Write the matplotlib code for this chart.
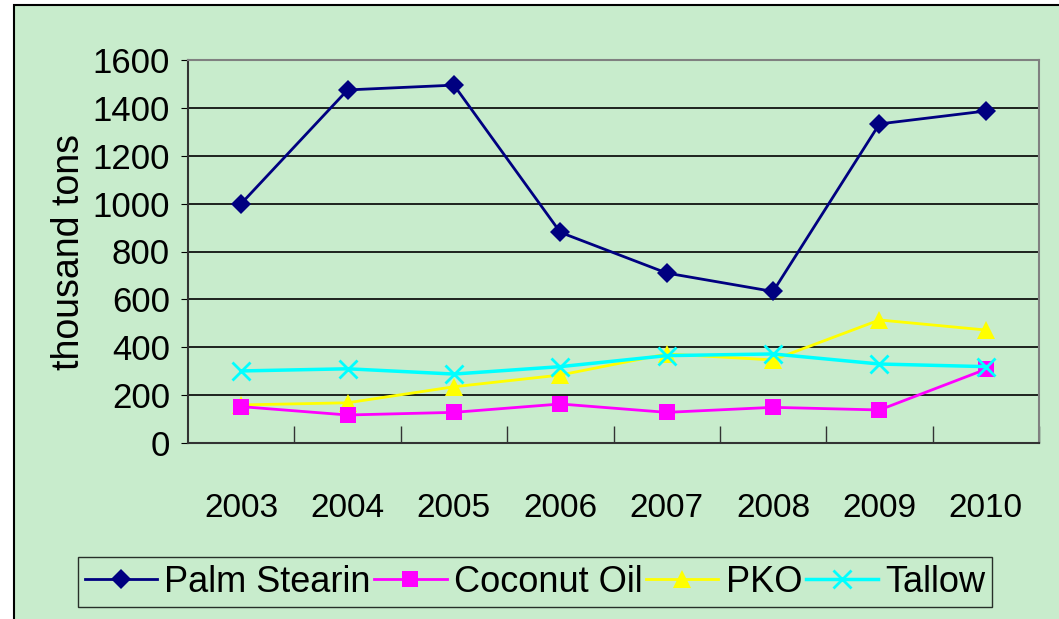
import matplotlib

matplotlib.use('Agg')
import matplotlib.pyplot as plt
from matplotlib.patches import Rectangle

plt.rcParams['font.family'] = ['Liberation Sans Narrow', 'Liberation Sans', 'DejaVu Sans']

years = ['2003', '2004', '2005', '2006', '2007', '2008', '2009', '2010']
palm_stearin = [1000, 1475, 1495, 880, 710, 633, 1333, 1387]
coconut_oil = [152, 117, 128, 163, 128, 149, 138, 308]
pko = [159, 168, 235, 284, 372, 347, 514, 472]
tallow = [301, 310, 288, 319, 365, 372, 330, 319]

BG = '#c8eccc'
W, H = 1059, 619

fig = plt.figure(figsize=(W / 100, H / 100), dpi=100, facecolor='white')
fig.patches.append(Rectangle((14 / W, -0.05), 1.1, 1.05 - 5 / H, transform=fig.transFigure,
                             facecolor=BG, edgecolor='black', linewidth=1.5, zorder=-10))

ax = fig.add_axes([188 / W, 1 - 443 / H, (1039 - 188) / W, (443 - 60) / H])
ax.set_facecolor('none')

x = list(range(len(years)))
ax.plot(x, palm_stearin, color='#000080', lw=2, marker='D', ms=10, mew=0, label='Palm Stearin', zorder=5)
ax.plot(x, coconut_oil, color='#ff00ff', lw=2, marker='s', ms=11, mew=0, label='Coconut Oil', zorder=4)
ax.plot(x, pko, color='#ffff00', lw=2, marker='^', ms=13, mew=0, label='PKO', zorder=3)
ax.plot(x, tallow, color='#00ffff', lw=2.5, marker='x', ms=13, mew=2, label='Tallow', zorder=6)

ax.set_xlim(-0.5, len(years) - 0.5)
ax.set_ylim(0, 1600)
ax.set_yticks(range(0, 1601, 200))
ax.yaxis.grid(True, color='black', lw=1.2)
ax.set_axisbelow(True)

ax.set_xticks([i + 0.5 for i in range(len(years))])
ax.set_xticklabels([])
ax.tick_params(axis='x', direction='in', length=12, width=1, colors='#333333')
for i, yr in enumerate(years):
    ax.text(i, -275, yr, ha='center', va='center', fontsize=24)

ax.tick_params(axis='y', direction='out', length=5, labelsize=25, pad=8)
ax.set_ylabel('thousand tons', fontsize=27, labelpad=4)

for side in ['top', 'right']:
    ax.spines[side].set_color('#808080')
    ax.spines[side].set_linewidth(1.5)
for side in ['left', 'bottom']:
    ax.spines[side].set_color('#333333')
    ax.spines[side].set_linewidth(1.5)

leg = fig.legend(loc='center', bbox_to_anchor=(535 / W, 1 - 582 / H), ncol=4, fontsize=26,
                 frameon=True, fancybox=False, edgecolor='black', facecolor=BG,
                 handlelength=2.0, handletextpad=0.2, columnspacing=0.1, borderpad=0.2)
leg.get_frame().set_linewidth(1)

fig.savefig('out.png', dpi=100, facecolor=fig.get_facecolor())
